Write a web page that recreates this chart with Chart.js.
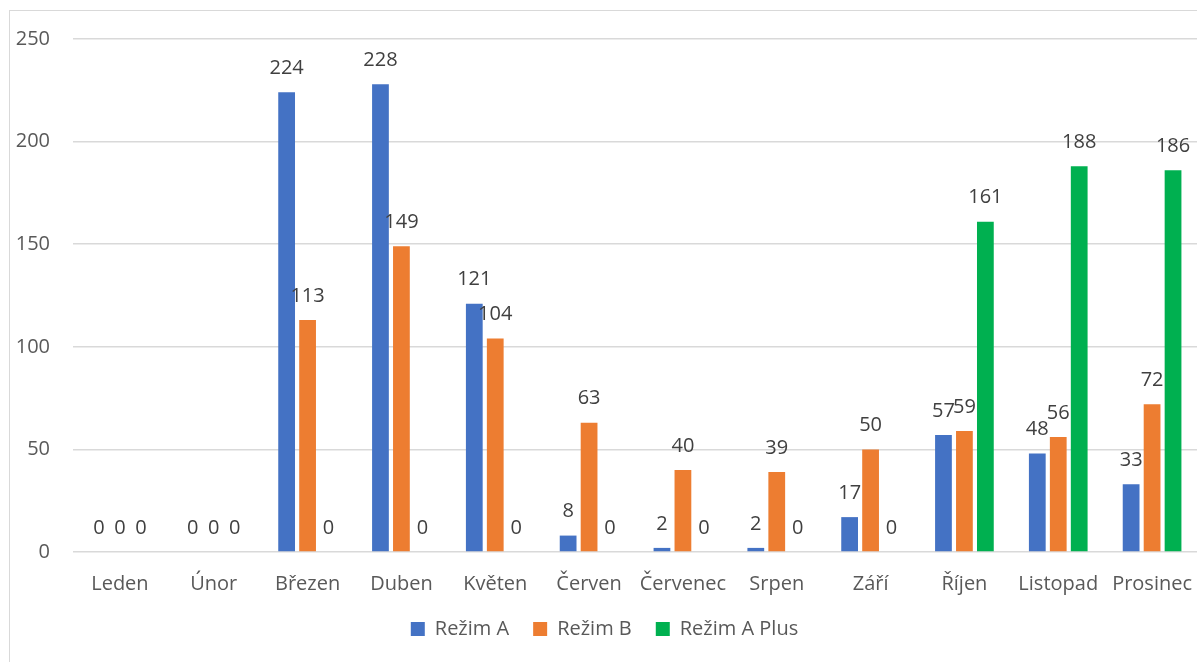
<!DOCTYPE html>
<html>
<head>
<meta charset="utf-8">
<script src="https://cdn.jsdelivr.net/npm/chart.js@4.4.1/dist/chart.umd.min.js"></script>
<style>
    html, body { margin: 0; padding: 0; background: #fff; overflow: hidden; }
    #frame {
        position: absolute; left: 9px; top: 10px;
        width: 1200px; height: 670px;
        border: 1px solid #d9d9d9; background: #fff;
    }
    #wrap { position: absolute; left: 0; top: 0; width: 1189px; height: 651px; }
</style>
</head>
<body>
<div id="frame"><div id="wrap"><canvas id="chart"></canvas></div></div>
<script>
const months = ['Leden', 'Únor', 'Březen', 'Duben', 'Květen', 'Červen', 'Červenec', 'Srpen', 'Září', 'Říjen', 'Listopad', 'Prosinec'];
const rezimA = [0, 0, 224, 228, 121, 8, 2, 2, 17, 57, 48, 33];
const rezimB = [0, 0, 113, 149, 104, 63, 40, 39, 50, 59, 56, 72];
const rezimAPlus = [0, 0, 0, 0, 0, 0, 0, 0, 0, 161, 188, 186];
const yTicks = [0, 50, 100, 150, 200, 250];

const fontFamily = "'Open Sans', 'Noto Sans', sans-serif";

// labels above every bar, like the office chart
const barLabels = {
    id: 'barLabels',
    afterDatasetsDraw(chart) {
        const ctx = chart.ctx;
        ctx.save();
        ctx.font = `20px ${fontFamily}`;
        ctx.fillStyle = '#404040';
        ctx.textAlign = 'center';
        ctx.textBaseline = 'middle';
        chart.data.datasets.forEach((ds, i) => {
            const meta = chart.getDatasetMeta(i);
            meta.data.forEach((bar, j) => {
                ctx.fillText(String(ds.data[j]), bar.x, bar.y - 24);
            });
        });
        ctx.restore();
    }
};

new Chart(document.getElementById('chart'), {
    type: 'bar',
    data: {
        labels: months,
        datasets: [
            { label: 'Režim A', data: rezimA, backgroundColor: '#4472C4' },
            { label: 'Režim B', data: rezimB, backgroundColor: '#ED7D31' },
            { label: 'Režim A Plus', data: rezimAPlus, backgroundColor: '#00B050' }
        ]
    },
    options: {
        responsive: true,
        maintainAspectRatio: false,
        animation: false,
        datasets: { bar: { categoryPercentage: 0.67, barPercentage: 0.8 } },
        layout: { padding: { top: 28, bottom: 13, left: 0, right: 0 } },
        plugins: {
            legend: {
                position: 'bottom',
                labels: {
                    boxWidth: 14, boxHeight: 14, padding: 24,
                    color: '#595959',
                    font: { family: fontFamily, size: 20 }
                }
            },
            tooltip: { enabled: false }
        },
        scales: {
            x: {
                grid: { display: false, drawTicks: false },
                border: { display: false },
                ticks: { color: '#595959', padding: 20, font: { family: fontFamily, size: 20 } },
                afterFit(scale) {
                    scale.height = 43;
                    scale.paddingLeft = 0;
                    scale.paddingRight = 0;
                }
            },
            y: {
                min: 0, max: 250,
                afterBuildTicks(scale) { scale.ticks = yTicks.map(v => ({ value: v })); },
                grid: { color: '#d9d9d9', lineWidth: 1.5, drawTicks: false },
                border: { display: false },
                ticks: { color: '#595959', padding: 23, font: { family: fontFamily, size: 20 } },
                afterFit(scale) {
                    scale.width = 63;
                    scale.paddingTop = 0;
                    scale.paddingBottom = 0;
                }
            }
        }
    },
    plugins: [barLabels]
});
</script>
</body>
</html>
